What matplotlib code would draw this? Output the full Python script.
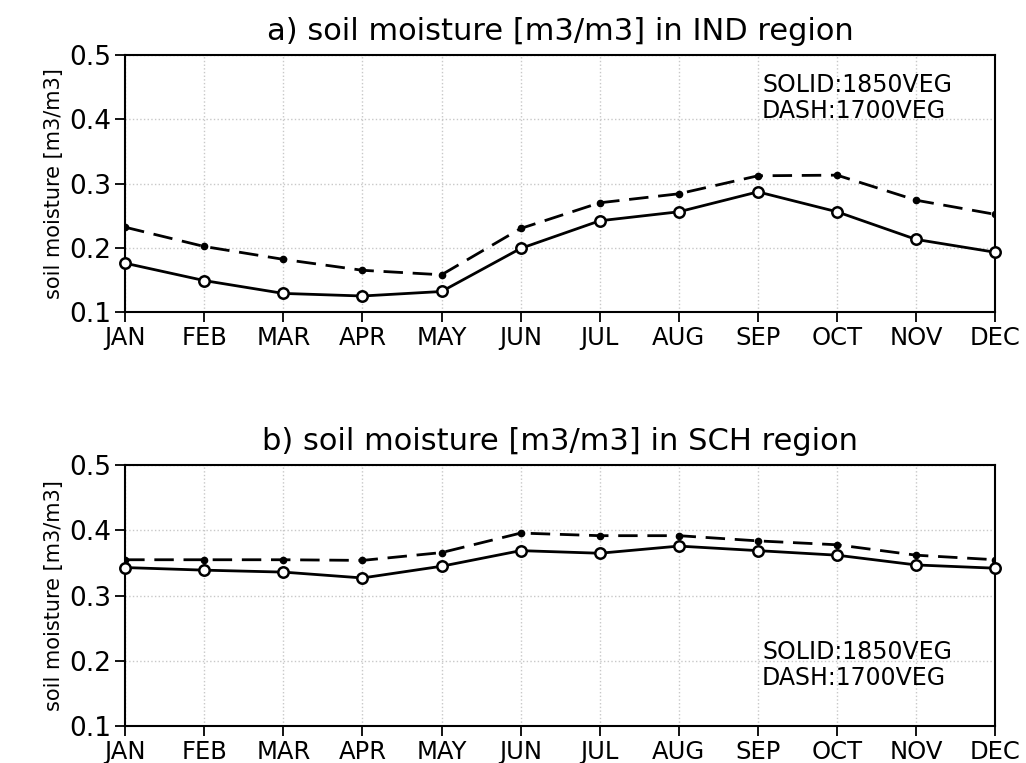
import numpy as np
import matplotlib.pyplot as plt

months = ['JAN', 'FEB', 'MAR', 'APR', 'MAY', 'JUN', 'JUL', 'AUG', 'SEP', 'OCT', 'NOV', 'DEC']

# a) IND region
ind_1850 = [0.176, 0.149, 0.129, 0.125, 0.132, 0.199, 0.242, 0.256, 0.287, 0.256, 0.213, 0.193]
ind_1700 = [0.232, 0.202, 0.182, 0.165, 0.158, 0.230, 0.270, 0.284, 0.312, 0.313, 0.274, 0.252]

# b) SCH region
sch_1850 = [0.343, 0.339, 0.336, 0.327, 0.345, 0.369, 0.365, 0.376, 0.369, 0.362, 0.347, 0.342]
sch_1700 = [0.355, 0.355, 0.355, 0.354, 0.366, 0.396, 0.392, 0.392, 0.384, 0.378, 0.362, 0.355]

yticks = [0.1, 0.2, 0.3, 0.4, 0.5]

fig = plt.figure(figsize=(10.26, 7.63), dpi=100)
ax1 = fig.add_axes([0.122, 0.591, 0.848, 0.337])
ax2 = fig.add_axes([0.122, 0.049, 0.848, 0.341])

x = np.arange(len(months))

panels = [
    (ax1, ind_1850, ind_1700, 'a) soil moisture [m3/m3] in IND region', 0.93),
    (ax2, sch_1850, sch_1700, 'b) soil moisture [m3/m3] in SCH region', 0.33),
]

for ax, solid, dash, title, ytxt in panels:
    ax.plot(x, dash, color='black', lw=2, dashes=(7, 3.5), marker='o', ms=4.5,
            mfc='black', mec='black', zorder=3)
    ax.plot(x, solid, color='black', lw=2, marker='o', ms=7.5,
            mfc='white', mec='black', mew=1.8, zorder=4, clip_on=False)
    ax.set_xlim(0, 11)
    ax.set_ylim(0.1, 0.5)
    ax.set_xticks(x)
    ax.set_xticklabels(months)
    ax.set_yticks(yticks)
    ax.set_yticklabels(['%.1f' % v for v in yticks], fontsize=19)
    ax.tick_params(axis='x', labelsize=17.5)
    ax.tick_params(axis='both', length=7, width=1.3, direction='out', pad=3)
    ax.grid(True, linestyle=':', color='#c8c8c8', lw=1)
    for s in ax.spines.values():
        s.set_linewidth(1.5)
    ax.set_title(title, fontsize=22, pad=11)
    ax.set_ylabel('soil moisture [m3/m3]', fontsize=15, labelpad=4)
    ax.text(0.732, ytxt, 'SOLID:1850VEG\nDASH:1700VEG', transform=ax.transAxes,
            ha='left', va='top', fontsize=17, linespacing=1.1)

fig.savefig('out.png', dpi=100)
